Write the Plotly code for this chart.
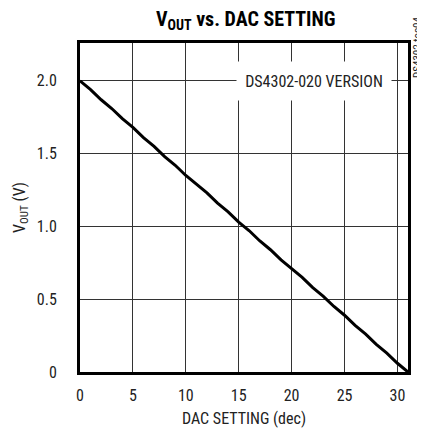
import plotly.graph_objects as go

dac_setting = list(range(32))
vout = [2.00, 1.94, 1.87, 1.81, 1.74, 1.68, 1.61, 1.55, 1.48, 1.42, 1.35, 1.29,
        1.23, 1.16, 1.10, 1.03, 0.97, 0.90, 0.84, 0.77, 0.71, 0.65, 0.58, 0.52,
        0.45, 0.39, 0.32, 0.26, 0.19, 0.13, 0.06, 0.00]
x_ticks = [0, 5, 10, 15, 20, 25, 30]
y_ticks = [0, 0.5, 1.0, 1.5, 2.0]
y_ticktext = ["0", "0.5", "1.0", "1.5", "2.0"]

FONT = "Liberation Sans Narrow, Roboto Condensed, Arial Narrow, Liberation Sans, sans-serif"

fig = go.Figure()
fig.add_trace(go.Scatter(x=dac_setting, y=vout, mode="lines",
                         line=dict(color="black", width=3), showlegend=False))

fig.update_layout(
    width=417, height=427,
    margin=dict(l=72, r=17, t=35, b=63),
    paper_bgcolor="white", plot_bgcolor="white",
    font=dict(family=FONT, size=16, color="#222"),
    title=dict(text="<b>V<sub>OUT</sub> vs. DAC SETTING</b>", x=0.57, xanchor="center",
               y=0.975, yanchor="middle", font=dict(family=FONT, size=20, color="black")),
)
fig.update_xaxes(range=[0, 31], tickvals=x_ticks, showgrid=True, gridcolor="#333",
                 gridwidth=1, showline=True, linecolor="black", linewidth=3, mirror=True,
                 ticks="", zeroline=False, ticklabelstandoff=7, automargin=False,
                 title=dict(text="DAC SETTING (dec)", standoff=9, font=dict(size=16)))
fig.update_yaxes(range=[0, 2.26], tickvals=y_ticks, ticktext=y_ticktext, showgrid=True,
                 gridcolor="#333", gridwidth=1, showline=True, linecolor="black",
                 linewidth=3, mirror=True, ticks="", zeroline=False, ticklabelstandoff=17,
                 automargin=False,
                 title=dict(text="V<sub>OUT</sub> (V)", standoff=8, font=dict(size=16)))

fig.add_annotation(x=29.45, y=2.0, xref="x", yref="y", xanchor="right", yanchor="middle",
                   text="DS4302-020 VERSION", showarrow=False, bgcolor="white",
                   width=152, height=36, font=dict(size=16, color="#222"))
fig.add_annotation(x=1.0, y=1.0, xref="paper", yref="paper", xanchor="center",
                   yanchor="middle", xshift=9, yshift=-5, text="DS4302 toc04",
                   textangle=-90, showarrow=False, font=dict(size=11, color="#222"))

fig.write_html("out.html")
